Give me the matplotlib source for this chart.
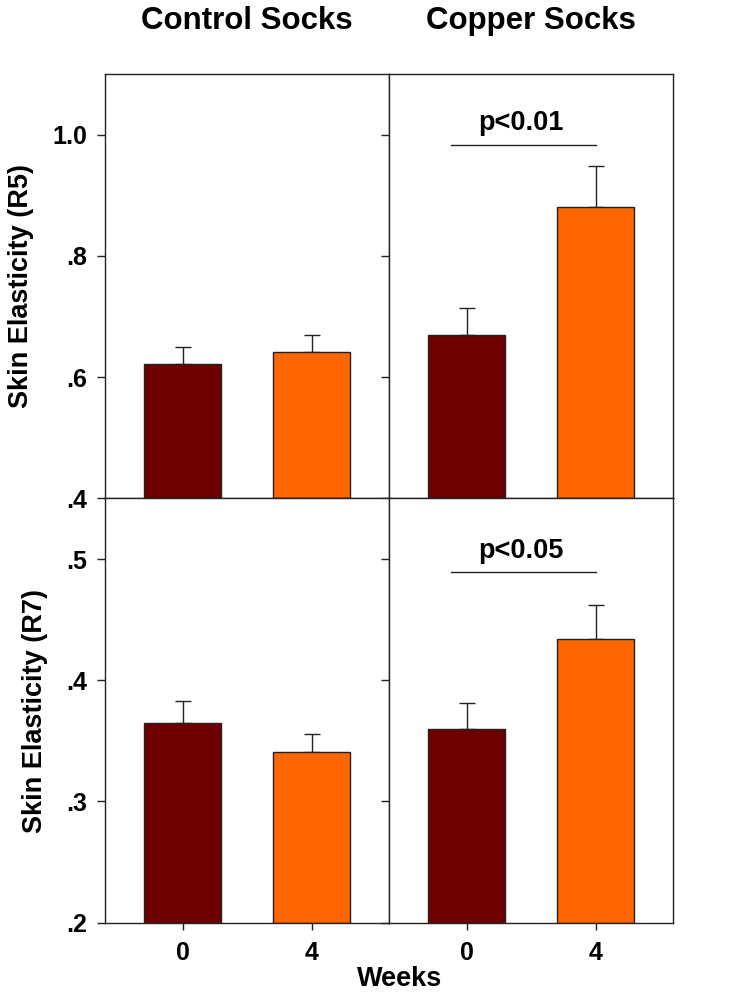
import matplotlib
matplotlib.use("Agg")
import matplotlib.pyplot as plt

plt.rcParams['font.family'] = ['Liberation Sans', 'DejaVu Sans']
plt.rcParams['font.weight'] = 'bold'

# data
weeks = ["0", "4"]
groups = ["Control Socks", "Copper Socks"]

r5_control = [0.622, 0.641]
r5_control_err = [0.028, 0.029]
r5_copper = [0.669, 0.880]
r5_copper_err = [0.045, 0.069]

r7_control = [0.365, 0.341]
r7_control_err = [0.018, 0.015]
r7_copper = [0.360, 0.434]
r7_copper_err = [0.021, 0.028]

r5_ticks = [0.4, 0.6, 0.8, 1.0]
r5_labels = [".4", ".6", ".8", "1.0"]
r7_ticks = [0.2, 0.3, 0.4, 0.5]
r7_labels = [".2", ".3", ".4", ".5"]

p_r5 = "p<0.01"
p_r5_y = 0.983
p_r7 = "p<0.05"
p_r7_y = 0.489

colors = ["#700000", "#ff6600"]
edge = "#222222"

fig = plt.figure(figsize=(7.33, 9.97), dpi=100)

left = [105.3 / 733, 389.3 / 733]
width = 283.7 / 733
bottom = [1 - 498.3 / 997, 1 - 922.7 / 997]
height = 424.3 / 997


def draw_panel(ax, vals, errs, ylim, ticks, labels, show_ylabels, show_x):
    x = [0, 1]
    ax.bar(x, [v - ylim[0] for v in vals], bottom=ylim[0], width=0.6,
           color=colors, edgecolor=edge, linewidth=1.0, zorder=2)
    ax.errorbar(x, vals, yerr=[[0, 0], errs], fmt="none", ecolor=edge,
                elinewidth=1.0, capsize=5.5, capthick=1.0, zorder=1)
    ax.set_xlim(-0.6, 1.6)
    ax.set_ylim(*ylim)
    ax.set_yticks(ticks)
    if show_ylabels:
        ax.set_yticklabels(labels)
    else:
        ax.set_yticklabels([])
    if show_x:
        ax.set_xticks(x)
        ax.set_xticklabels(weeks)
    else:
        ax.set_xticks([])
    ax.tick_params(axis="y", direction="out", length=6, width=1,
                   color=edge, pad=7, labelsize=18)
    ax.tick_params(axis="x", direction="out", length=5, width=1,
                   color=edge, pad=8, labelsize=18)
    for s in ax.spines.values():
        s.set_color(edge)
        s.set_linewidth(1.0)


ax_tl = fig.add_axes([left[0], bottom[0], width, height])
ax_tr = fig.add_axes([left[1], bottom[0], width, height])
ax_bl = fig.add_axes([left[0], bottom[1], width, height])
ax_br = fig.add_axes([left[1], bottom[1], width, height])

draw_panel(ax_tl, r5_control, r5_control_err, (0.4, 1.1), r5_ticks, r5_labels, True, False)
draw_panel(ax_tr, r5_copper, r5_copper_err, (0.4, 1.1), r5_ticks, r5_labels, False, False)
draw_panel(ax_bl, r7_control, r7_control_err, (0.2, 0.55), r7_ticks, r7_labels, True, True)
draw_panel(ax_br, r7_copper, r7_copper_err, (0.2, 0.55), r7_ticks, r7_labels, False, True)

ax_tl.set_ylabel("Skin Elasticity (R5)", fontsize=19.5, fontweight="bold", labelpad=13)
ax_bl.set_ylabel("Skin Elasticity (R7)", fontsize=19.5, fontweight="bold", labelpad=13)

# significance bars
for ax, txt, yy, rng in [(ax_tr, p_r5, p_r5_y, 0.7), (ax_br, p_r7, p_r7_y, 0.35)]:
    ax.plot([-0.12, 1.0], [yy, yy], color=edge, linewidth=1.0)
    ax.text(0.42, yy + rng * 0.02, txt, ha="center", va="bottom",
            fontsize=19.5, fontweight="bold")

for i, g in enumerate(groups):
    fig.text(left[i] + width / 2, 1 - 21 / 997, g, ha="center", va="center",
             fontsize=22.5, fontweight="bold")

fig.text(400 / 733, 1 - 979 / 997, "Weeks", ha="center", va="center",
         fontsize=19.5, fontweight="bold")

fig.savefig("out.png", dpi=100)
